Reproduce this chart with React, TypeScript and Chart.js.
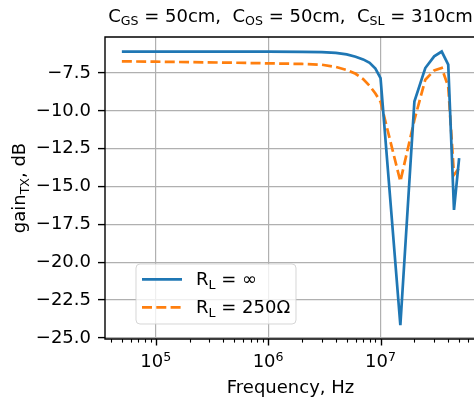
import { useEffect, useRef } from 'react';
import { Chart, registerables } from 'chart.js';

Chart.register(...registerables);

// ---- data ----
const freqs = [5e4, 1e5, 2e5, 5e5, 1e6, 2e6, 3e6, 4e6, 5e6, 6e6, 7e6, 8e6, 9e6, 1e7, 1.5e7, 2e7, 2.5e7, 3e7, 3.5e7, 4e7, 4.5e7, 5e7];
const gainInf = [-6.09, -6.09, -6.09, -6.09, -6.09, -6.10, -6.12, -6.17, -6.27, -6.42, -6.60, -6.82, -7.20, -7.83, -24.16, -9.38, -7.17, -6.40, -6.08, -6.95, -16.54, -13.12];
const gain250 = [-6.73, -6.75, -6.78, -6.82, -6.86, -6.90, -6.95, -7.10, -7.30, -7.55, -7.90, -8.35, -8.85, -9.40, -14.66, -10.60, -7.94, -7.33, -7.17, -8.39, -14.22, -13.78];
const yTicks = [-25, -22.5, -20, -17.5, -15, -12.5, -10, -7.5];
const xMajorTicks = [1e5, 1e6, 1e7];
const xTickExps = ['5', '6', '7'];
const legendLabels = [
  [{ t: 'R' }, { t: 'L', sub: true }, { t: ' = ∞' }],
  [{ t: 'R' }, { t: 'L', sub: true }, { t: ' = 250Ω' }],
];
const titleSegs = [
  { t: 'C' }, { t: 'GS', sub: true }, { t: ' = 50cm,  ' },
  { t: 'C' }, { t: 'OS', sub: true }, { t: ' = 50cm,  ' },
  { t: 'C' }, { t: 'SL', sub: true }, { t: ' = 310cm' },
];
const yLabelSegs = [{ t: 'gain' }, { t: 'TX', sub: true }, { t: ', dB' }];
const xLabel = 'Frequency, Hz';

const FONT = "'DejaVu Sans', 'Liberation Sans', sans-serif";
const BLUE = '#1f77b4';
const ORANGE = '#ff7f0e';

type Seg = { t: string; sub?: boolean; sup?: boolean };

function drawRich(ctx: CanvasRenderingContext2D, segs: Seg[], x: number, y: number, align: string, size: number) {
  const widths = segs.map((s) => {
    const fs = s.sub || s.sup ? size * 0.7 : size;
    ctx.font = `${fs}px ${FONT}`;
    return ctx.measureText(s.t).width;
  });
  const total = widths.reduce((a, b) => a + b, 0);
  let cx = align === 'center' ? x - total / 2 : align === 'right' ? x - total : x;
  ctx.textAlign = 'left';
  ctx.textBaseline = 'alphabetic';
  ctx.fillStyle = '#000';
  segs.forEach((s, i) => {
    const fs = s.sub || s.sup ? size * 0.7 : size;
    ctx.font = `${fs}px ${FONT}`;
    const dy = s.sub ? size * 0.22 : s.sup ? -size * 0.34 : 0;
    ctx.fillText(s.t, cx, y + dy);
    cx += widths[i];
  });
}

export default function App() {
  const ref = useRef<HTMLCanvasElement>(null);

  useEffect(() => {
    const canvas = ref.current!;
    const overlay = {
      id: 'overlay',
      afterDatasetsDraw(chart: any) {
        const { ctx, chartArea } = chart;
        const { left, right, top, bottom } = chartArea;
        const xs = chart.scales.x;
        ctx.save();
        // spines (left, top, bottom; right one lies past the picture edge)
        ctx.strokeStyle = '#000';
        ctx.lineWidth = 1.4;
        ctx.beginPath();
        ctx.moveTo(right + 2, top);
        ctx.lineTo(left, top);
        ctx.lineTo(left, bottom);
        ctx.lineTo(right + 2, bottom);
        ctx.stroke();
        // x ticks
        ctx.lineWidth = 1.4;
        xMajorTicks.forEach((v) => {
          const px = Math.round(xs.getPixelForValue(v)) + 0.5;
          ctx.beginPath();
          ctx.moveTo(px, bottom);
          ctx.lineTo(px, bottom + 6.5);
          ctx.stroke();
        });
        ctx.lineWidth = 1.1;
        for (let d = 4; d <= 7; d++) {
          for (let k = 2; k <= 9; k++) {
            const v = k * Math.pow(10, d);
            if (v <= xs.min || v >= xs.max) continue;
            const px = Math.round(xs.getPixelForValue(v)) + 0.5;
            ctx.beginPath();
            ctx.moveTo(px, bottom);
            ctx.lineTo(px, bottom + 3.6);
            ctx.stroke();
          }
        }
        // x tick labels
        xMajorTicks.forEach((v, i) => {
          const px = xs.getPixelForValue(v);
          drawRich(ctx, [{ t: '10' }, { t: xTickExps[i], sup: true }], px, 367, 'center', 18);
        });
        // x label
        drawRich(ctx, [{ t: xLabel }], (left + right) / 2, 393, 'center', 18);
        // title
        drawRich(ctx, titleSegs, (left + right) / 2, 21.5, 'center', 18);
        // y label
        ctx.save();
        ctx.translate(25, (top + bottom) / 2);
        ctx.rotate(-Math.PI / 2);
        drawRich(ctx, yLabelSegs, 0, 0, 'center', 18);
        ctx.restore();
        // legend
        const lx = 136, ly = 264, lw = 160, lh = 60, r = 4;
        ctx.beginPath();
        ctx.moveTo(lx + r, ly);
        ctx.lineTo(lx + lw - r, ly);
        ctx.quadraticCurveTo(lx + lw, ly, lx + lw, ly + r);
        ctx.lineTo(lx + lw, ly + lh - r);
        ctx.quadraticCurveTo(lx + lw, ly + lh, lx + lw - r, ly + lh);
        ctx.lineTo(lx + r, ly + lh);
        ctx.quadraticCurveTo(lx, ly + lh, lx, ly + lh - r);
        ctx.lineTo(lx, ly + r);
        ctx.quadraticCurveTo(lx, ly, lx + r, ly);
        ctx.closePath();
        ctx.fillStyle = 'rgba(255,255,255,0.8)';
        ctx.fill();
        ctx.strokeStyle = 'rgba(204,204,204,0.8)';
        ctx.lineWidth = 1;
        ctx.stroke();
        const rows = [279.3, 307.3];
        const colors = [BLUE, ORANGE];
        rows.forEach((ry, i) => {
          ctx.strokeStyle = colors[i];
          ctx.lineWidth = 2.7;
          ctx.setLineDash(i === 1 ? [10, 4.3] : []);
          ctx.beginPath();
          ctx.moveTo(142, ry);
          ctx.lineTo(182, ry);
          ctx.stroke();
          ctx.setLineDash([]);
          drawRich(ctx, legendLabels[i] as Seg[], 196, ry + 6, 'left', 18);
        });
        ctx.restore();
      },
    };

    const chart = new Chart(canvas, {
      type: 'line',
      data: {
        datasets: [
          {
            label: 'RL = inf',
            data: freqs.map((f, i) => ({ x: f, y: gainInf[i] })),
            borderColor: BLUE,
            borderWidth: 2.7,
            pointRadius: 0,
            tension: 0,
            fill: false,
          },
          {
            label: 'RL = 250',
            data: freqs.map((f, i) => ({ x: f, y: gain250[i] })),
            borderColor: ORANGE,
            borderWidth: 2.7,
            borderDash: [10, 4.3],
            pointRadius: 0,
            tension: 0,
            fill: false,
          },
        ],
      },
      options: {
        animation: false,
        responsive: false,
        maintainAspectRatio: false,
        devicePixelRatio: 1,
        layout: { padding: { top: 37, left: 0, right: 1, bottom: 0 } },
        plugins: { legend: { display: false }, title: { display: false }, tooltip: { enabled: false } },
        scales: {
          x: {
            type: 'logarithmic',
            position: 'bottom',
            bounds: 'data',
            min: Math.pow(10, 4.549),
            max: Math.pow(10, 7.849),
            afterBuildTicks: (s: any) => {
              s.ticks = xMajorTicks.map((v) => ({ value: v }));
            },
            afterFit: (s: any) => {
              s.height = 63;
              s.paddingLeft = 0;
              s.paddingRight = 0;
            },
            ticks: { display: false },
            grid: { color: '#b0b0b0', lineWidth: 1.2, drawTicks: false },
            border: { display: false },
          },
          y: {
            type: 'linear',
            min: -25.07,
            max: -5.12,
            afterBuildTicks: (s: any) => {
              s.ticks = yTicks.map((v) => ({ value: v }));
            },
            afterFit: (s: any) => {
              s.width = 105;
              s.paddingTop = 0;
              s.paddingBottom = 0;
            },
            ticks: {
              font: { family: FONT, size: 18 },
              color: '#000',
              padding: 7,
              callback: (v: any) => (v < 0 ? '\u2212' : '') + Math.abs(Number(v)).toFixed(1),
            },
            grid: { color: '#b0b0b0', lineWidth: 1.2, drawTicks: true, tickColor: '#000', tickLength: 7, tickWidth: 1.4 },
            border: { display: false },
          },
        },
      } as any,
      plugins: [overlay],
    });
    return () => chart.destroy();
  }, []);

  return (
    <div style={{ position: 'absolute', left: 0, top: 0, width: 474, height: 402, overflow: 'hidden', background: '#fff' }}>
      <canvas ref={ref} width={477} height={402} style={{ width: 477, height: 402, display: 'block' }} />
    </div>
  );
}
